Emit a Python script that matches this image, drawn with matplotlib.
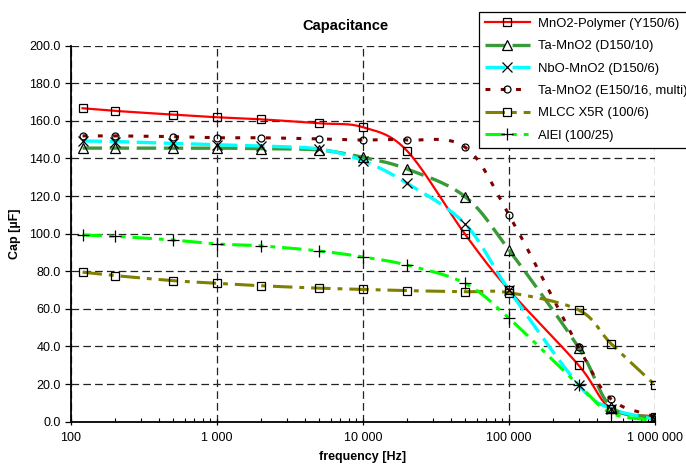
import numpy as np
import matplotlib
matplotlib.use("Agg")
import matplotlib.pyplot as plt
from matplotlib.ticker import FixedLocator, FixedFormatter, LogLocator, NullFormatter

plt.rcParams['font.family'] = ['Liberation Sans', 'DejaVu Sans']
plt.rcParams['lines.scale_dashes'] = False

# data (frequency in Hz, capacitance in uF)
freq = [120, 200, 500, 1000, 2000, 5000, 10000, 20000, 50000, 100000, 300000, 500000, 1000000]

mno2_polymer = [166.7, 165.3, 163.3, 161.9, 160.8, 158.7, 156.6, 144.1, 99.7, 70.0, 30.0, 6.8, 2.7]
ta_mno2_d = [145.5, 145.5, 145.5, 145.5, 145.2, 144.5, 140.6, 134.4, 119.7, 91.3, 39.4, 8.0, 2.0]
nbo_mno2 = [149.3, 149.0, 148.0, 147.3, 146.6, 145.0, 138.8, 126.8, 105.2, 70.0, 19.5, 7.0, 1.2]
ta_mno2_e = [152.0, 152.0, 151.6, 151.0, 151.0, 150.4, 149.8, 149.8, 146.0, 110.0, 39.6, 12.0, 2.5]
mlcc_x5r = [79.5, 77.7, 75.0, 73.6, 72.3, 71.0, 70.4, 69.7, 69.1, 68.6, 59.4, 41.5, 19.5]
alel = [99.3, 98.6, 96.6, 94.5, 93.5, 90.8, 87.6, 83.3, 73.6, 55.0, 19.5, 4.6, 0.5]

labels = ["MnO2-Polymer (Y150/6)", "Ta-MnO2 (D150/10)", "NbO-MnO2 (D150/6)",
          "Ta-MnO2 (E150/16, multi)", "MLCC X5R (100/6)", "AlEl (100/25)"]

y_ticks = [0, 20, 40, 60, 80, 100, 120, 140, 160, 180, 200]
x_ticks = [100, 1000, 10000, 100000, 1000000]
x_tick_labels = ["100", "1 000", "10 000", "100 000", "1 000 000"]


def smooth(xs, ys, n=20):
    # Excel-style smoothed line: Catmull-Rom in log-x space
    lx = np.log10(np.asarray(xs, float))
    y = np.asarray(ys, float)
    px = np.concatenate([[2 * lx[0] - lx[1]], lx, [2 * lx[-1] - lx[-2]]])
    py = np.concatenate([[2 * y[0] - y[1]], y, [2 * y[-1] - y[-2]]])
    outx, outy = [], []
    t = np.linspace(0, 1, n, endpoint=False)
    for i in range(1, len(px) - 2):
        for arr, out in ((px, outx), (py, outy)):
            p0, p1, p2, p3 = arr[i - 1], arr[i], arr[i + 1], arr[i + 2]
            out.extend(0.5 * ((2 * p1) + (-p0 + p2) * t
                              + (2 * p0 - 5 * p1 + 4 * p2 - p3) * t ** 2
                              + (-p0 + 3 * p1 - 3 * p2 + p3) * t ** 3))
    outx.append(lx[-1])
    outy.append(y[-1])
    return 10 ** np.array(outx), np.array(outy)


series = [
    (mno2_polymer, dict(color='#ff0000', lw=1.6, ls='-'), 's', 5.5),
    (ta_mno2_d, dict(color='#3a9a3a', lw=2.4, dashes=(14, 5.5)), '^', 6.5),
    (nbo_mno2, dict(color='#00ffff', lw=2.4, dashes=(14, 5.5)), 'x', 7.5),
    (ta_mno2_e, dict(color='#800000', lw=2.2, dashes=(3.5, 7.5)), 'o', 5.0),
    (mlcc_x5r, dict(color='#808000', lw=2.2, dashes=(14, 5, 3.5, 5)), 's', 5.5),
    (alel, dict(color='#00ff00', lw=2.2, dashes=(14, 5, 3.5, 5, 3.5, 5)), '+', 8.5),
]

fig = plt.figure(figsize=(6.86, 4.68), dpi=100)
ax = fig.add_axes([0.1035, 0.099, 0.8513, 0.8035])

handles = []
for vals, style, mk, ms in series:
    sx, sy = smooth(freq, vals)
    ax.plot(sx, sy, **style, zorder=3)
    ax.plot(freq, vals, ls='none', marker=mk, ms=ms, mfc='none', mec='black',
            mew=0.9, zorder=4)
    h, = ax.plot([], [], marker=mk, ms=ms, mfc='none', mec='black', mew=0.9, **style)
    handles.append(h)

ax.set_xscale('log')
ax.set_xlim(100, 1000000)
ax.set_ylim(0, 200)

ax.yaxis.set_major_locator(FixedLocator(y_ticks))
ax.set_yticklabels([f"{v:.1f}" for v in y_ticks])
ax.xaxis.set_major_locator(FixedLocator(x_ticks))
ax.xaxis.set_major_formatter(FixedFormatter(x_tick_labels))
ax.xaxis.set_minor_locator(LogLocator(base=10, subs=np.arange(2, 10)))
ax.xaxis.set_minor_formatter(NullFormatter())

ax.tick_params(axis='y', direction='out', length=4, width=0.9, labelsize=9, colors='black')
ax.tick_params(axis='x', which='major', direction='inout', length=5, width=0.9, labelsize=9, pad=5)
ax.tick_params(axis='x', which='minor', direction='in', length=3, width=0.8)

ax.grid(True, which='major', color='#222222', lw=0.9, dashes=(5.5, 3))
ax.set_axisbelow(True)
for side in ('top', 'right'):
    ax.spines[side].set_visible(False)
for side in ('left', 'bottom'):
    ax.spines[side].set_linewidth(1.3)

ax.set_xlabel("frequency [Hz]", fontsize=9, fontweight='bold', labelpad=5)
ax.set_ylabel("Cap [µF]", fontsize=9, fontweight='bold', labelpad=6)
fig.text(0.503, 0.945, "Capacitance", ha='center', va='center', fontsize=10.5, fontweight='bold')

leg = fig.legend(handles, labels, loc='upper left', bbox_to_anchor=(479 / 686, 1 - 12 / 468),
                 fontsize=9.4, frameon=True, fancybox=False, framealpha=1, edgecolor='black',
                 borderpad=0.45, labelspacing=0.78, handlelength=3.45, handletextpad=0.6,
                 borderaxespad=0)
leg.get_frame().set_linewidth(0.9)

fig.savefig("out.png", dpi=100)
